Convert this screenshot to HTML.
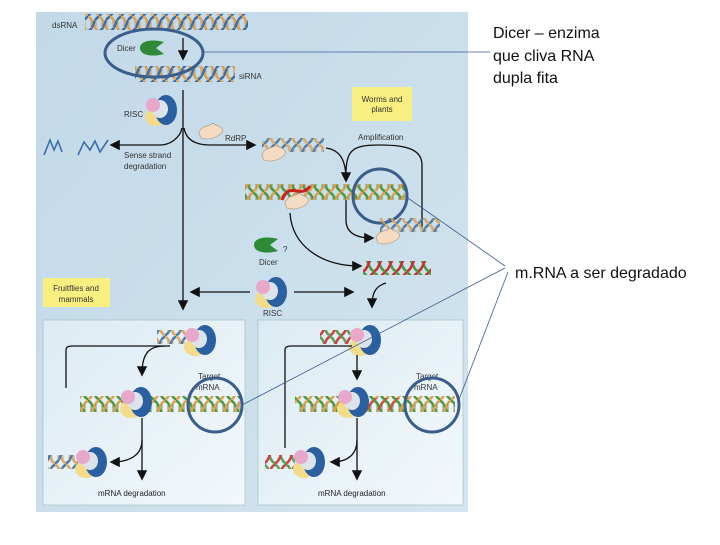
<!DOCTYPE html>
<html><head><meta charset="utf-8"><style>
body{margin:0;background:#fff;width:720px;height:540px;overflow:hidden;font-family:"Liberation Sans",sans-serif}
</style></head><body>
<svg width="720" height="540" xmlns="http://www.w3.org/2000/svg" font-family="Liberation Sans, sans-serif">
<defs>
<linearGradient id="bg" x1="0" y1="0" x2="1" y2="1"><stop offset="0" stop-color="#c2d9e8"/><stop offset="1" stop-color="#d2e4ef"/></linearGradient>
<linearGradient id="pn" x1="0" y1="0" x2="1" y2="1"><stop offset="0" stop-color="#dcebf3"/><stop offset="1" stop-color="#f2f8fb"/></linearGradient>
<pattern id="ho" width="11" height="16" patternUnits="userSpaceOnUse">
<path d="M0 1 C5 1 6 15 11 15" stroke="#e0a050" stroke-width="2.5" fill="none"/>
<path d="M0 15 C5 15 6 1 11 1" stroke="#3a6fa8" stroke-width="2.5" fill="none"/>
<path d="M3 4V12M8 4V12" stroke="#c9a070" stroke-width="1"/></pattern>
<pattern id="hg" width="11" height="16" patternUnits="userSpaceOnUse">
<path d="M0 1 C5 1 6 15 11 15" stroke="#4a9a40" stroke-width="2.5" fill="none"/>
<path d="M0 15 C5 15 6 1 11 1" stroke="#e0a050" stroke-width="2.5" fill="none"/>
<path d="M3 4V12M8 4V12" stroke="#7a9a60" stroke-width="1"/></pattern>
<pattern id="hr" width="11" height="16" patternUnits="userSpaceOnUse">
<path d="M0 1 C5 1 6 15 11 15" stroke="#4a9a40" stroke-width="2.5" fill="none"/>
<path d="M0 15 C5 15 6 1 11 1" stroke="#c83030" stroke-width="2.5" fill="none"/></pattern>
<marker id="a" markerWidth="8" markerHeight="8" refX="6" refY="4" orient="auto"><path d="M0 0L8 4L0 8z" fill="#111"/></marker>
<g id="risc"><ellipse cx="8" cy="7" rx="11" ry="9" fill="#f2dc8a"/><ellipse cx="18" cy="0" rx="11" ry="15" fill="#2a5fa0"/><ellipse cx="12" cy="-1" rx="8" ry="9" fill="#dde3ea"/><ellipse cx="5" cy="-5" rx="7" ry="7" fill="#e8a8cc"/></g>
<g id="dicer"><path d="M0 0 C0 -8 14 -9 24 -6 L16 0 L24 6 C14 9 0 8 0 0z" fill="#2d8a35"/></g>
<g id="rdrp"><path d="M0 0 C2 -8 10 -6 14 -10 C18 -6 22 -8 24 -2 C20 4 10 8 2 5z" fill="#f4dcc4" stroke="#b09070" stroke-width=".6"/></g>
</defs>
<rect x="36" y="12" width="432" height="500" fill="url(#bg)"/>
<rect x="43" y="320" width="202" height="185" fill="url(#pn)" stroke="#9bb" stroke-width=".6"/>
<rect x="258" y="320" width="205" height="185" fill="url(#pn)" stroke="#9bb" stroke-width=".6"/>
<text x="52" y="28" font-size="8" fill="#333">dsRNA</text>
<rect x="85" y="14" width="163" height="16" fill="url(#ho)"/>
<use href="#dicer" x="140" y="48"/>
<text x="117" y="51" font-size="8" fill="#333">Dicer</text>
<line x1="183" y1="38" x2="183" y2="58" stroke="#111" stroke-width="1.3" marker-end="url(#a)"/>
<rect x="135" y="66" width="100" height="16" fill="url(#ho)"/>
<text x="239" y="79" font-size="8" fill="#333">siRNA</text>
<ellipse cx="154" cy="53" rx="49" ry="24" fill="none" stroke="#3a5d8c" stroke-width="3"/>
<line x1="203" y1="52" x2="490" y2="52" stroke="#3a5d8c" stroke-width=".8"/>
<text font-size="16" fill="#111"><tspan x="493" y="38">Dicer – enzima</tspan><tspan x="493" y="61">que cliva RNA</tspan><tspan x="493" y="83">dupla fita</tspan></text>
<use href="#risc" x="148" y="110"/>
<text x="124" y="117" font-size="8" fill="#333">RISC</text>
<line x1="183" y1="90" x2="183" y2="308" stroke="#111" stroke-width="1.3" marker-end="url(#a)"/>
<path d="M182 128 C180 138 170 145 160 145 L112 145" fill="none" stroke="#111" stroke-width="1.3" marker-end="url(#a)"/>
<path d="M184 128 C186 140 196 145 210 145 L254 145" fill="none" stroke="#111" stroke-width="1.3" marker-end="url(#a)"/>
<path d="M44 155 L50 140 L54 150 L58 141 L62 152 M78 155 L84 142 L90 150 L95 141 L100 152 L108 140" stroke="#3a6fa8" stroke-width="1.6" fill="none"/>
<text x="124" y="158" font-size="8" fill="#333">Sense strand</text><text x="124" y="169" font-size="8" fill="#333">degradation</text>
<use href="#rdrp" x="199" y="133"/>
<text x="225" y="141" font-size="8" fill="#333">RdRP</text>
<rect x="352" y="87" width="60" height="34" fill="#f8ef80"/>
<text x="382" y="102" font-size="8" text-anchor="middle" fill="#333">Worms and</text><text x="382" y="112" font-size="8" text-anchor="middle" fill="#333">plants</text>
<text x="358" y="140" font-size="8" fill="#333">Amplification</text>
<rect x="262" y="138" width="62" height="14" fill="url(#ho)" opacity=".85"/>
<use href="#rdrp" x="262" y="155"/>
<path d="M326 148 C340 150 346 160 346 180" fill="none" stroke="#111" stroke-width="1.3" marker-end="url(#a)"/>
<path d="M346 175 C346 150 352 145 380 145 C408 145 422 150 422 165 L422 228" fill="none" stroke="#111" stroke-width="1.3"/>
<rect x="245" y="184" width="160" height="16" fill="url(#hg)"/>
<path d="M282 200 C290 180 300 200 310 186" stroke="#c82020" stroke-width="3" fill="none"/>
<use href="#rdrp" x="285" y="203"/>
<circle cx="380" cy="196" r="27" fill="none" stroke="#3a5d8c" stroke-width="3"/>
<path d="M346 200 L346 220 C346 235 360 238 372 238" fill="none" stroke="#111" stroke-width="1.3" marker-end="url(#a)"/>
<rect x="380" y="218" width="60" height="14" fill="url(#ho)" opacity=".85"/>
<use href="#rdrp" x="376" y="238"/>
<path d="M290 213 C292 245 320 266 360 266" fill="none" stroke="#111" stroke-width="1.3" marker-end="url(#a)"/>
<use href="#dicer" x="254" y="245"/>
<text x="283" y="252" font-size="8" fill="#333">?</text>
<text x="259" y="265" font-size="8" fill="#333">Dicer</text>
<rect x="363" y="261" width="68" height="14" fill="url(#hr)"/>
<rect x="43" y="278" width="67" height="29" fill="#f8ef80"/>
<text x="76" y="291" font-size="8" text-anchor="middle" fill="#333">Fruitflies and</text><text x="76" y="302" font-size="8" text-anchor="middle" fill="#333">mammals</text>
<use href="#risc" x="258" y="292"/>
<text x="263" y="316" font-size="8" fill="#333">RISC</text>
<line x1="250" y1="292" x2="192" y2="292" stroke="#111" stroke-width="1.3" marker-end="url(#a)"/>
<line x1="294" y1="292" x2="352" y2="292" stroke="#111" stroke-width="1.3" marker-end="url(#a)"/>
<path d="M386 283 C376 286 372 292 372 306" fill="none" stroke="#111" stroke-width="1.3" marker-end="url(#a)"/>
<rect x="157" y="330" width="30" height="14" fill="url(#ho)" opacity=".9"/>
<use href="#risc" x="187" y="340"/>
<path d="M66 388 L66 350 C66 346 70 346 74 346 L170 346" fill="none" stroke="#111" stroke-width="1.3"/>
<path d="M165 346 C150 346 142 352 142 374" fill="none" stroke="#111" stroke-width="1.3" marker-end="url(#a)"/>
<text x="198" y="379" font-size="8" fill="#333">Target</text><text x="196" y="390" font-size="8" fill="#333">mRNA</text>
<rect x="80" y="396" width="160" height="16" fill="url(#hg)"/>
<use href="#risc" x="123" y="402"/>
<circle cx="215" cy="405" r="27" fill="none" stroke="#3a5d8c" stroke-width="3"/>
<line x1="142" y1="418" x2="142" y2="478" stroke="#111" stroke-width="1.3" marker-end="url(#a)"/>
<path d="M142 440 C142 455 130 462 112 462" fill="none" stroke="#111" stroke-width="1.3" marker-end="url(#a)"/>
<rect x="48" y="455" width="30" height="14" fill="url(#ho)" opacity=".9"/>
<use href="#risc" x="78" y="462"/>
<text x="98" y="496" font-size="8" fill="#222">mRNA degradation</text>
<rect x="320" y="330" width="32" height="14" fill="url(#hr)" opacity=".9"/>
<use href="#risc" x="352" y="340"/>
<path d="M285 448 L285 350 C285 346 289 346 293 346 L352 346" fill="none" stroke="#111" stroke-width="1.3"/>
<line x1="357" y1="355" x2="357" y2="378" stroke="#111" stroke-width="1.3" marker-end="url(#a)"/>
<text x="416" y="379" font-size="8" fill="#333">Target</text><text x="414" y="390" font-size="8" fill="#333">mRNA</text>
<rect x="295" y="396" width="160" height="16" fill="url(#hg)"/>
<rect x="340" y="398" width="60" height="12" fill="url(#hr)" opacity=".7"/>
<use href="#risc" x="340" y="402"/>
<circle cx="432" cy="405" r="27" fill="none" stroke="#3a5d8c" stroke-width="3"/>
<line x1="357" y1="418" x2="357" y2="478" stroke="#111" stroke-width="1.3" marker-end="url(#a)"/>
<path d="M357 440 C357 455 347 462 332 462" fill="none" stroke="#111" stroke-width="1.3" marker-end="url(#a)"/>
<rect x="265" y="455" width="30" height="14" fill="url(#hr)" opacity=".9"/>
<use href="#risc" x="296" y="462"/>
<text x="318" y="496" font-size="8" fill="#222">mRNA degradation</text>
<line x1="405" y1="196" x2="505" y2="266" stroke="#3a5d8c" stroke-width=".8"/>
<line x1="242" y1="405" x2="505" y2="268" stroke="#3a5d8c" stroke-width=".8"/>
<line x1="458" y1="402" x2="508" y2="272" stroke="#3a5d8c" stroke-width=".8"/>
<text x="515" y="278" font-size="16" fill="#111">m.RNA a ser degradado</text>
</svg>
</body></html>
